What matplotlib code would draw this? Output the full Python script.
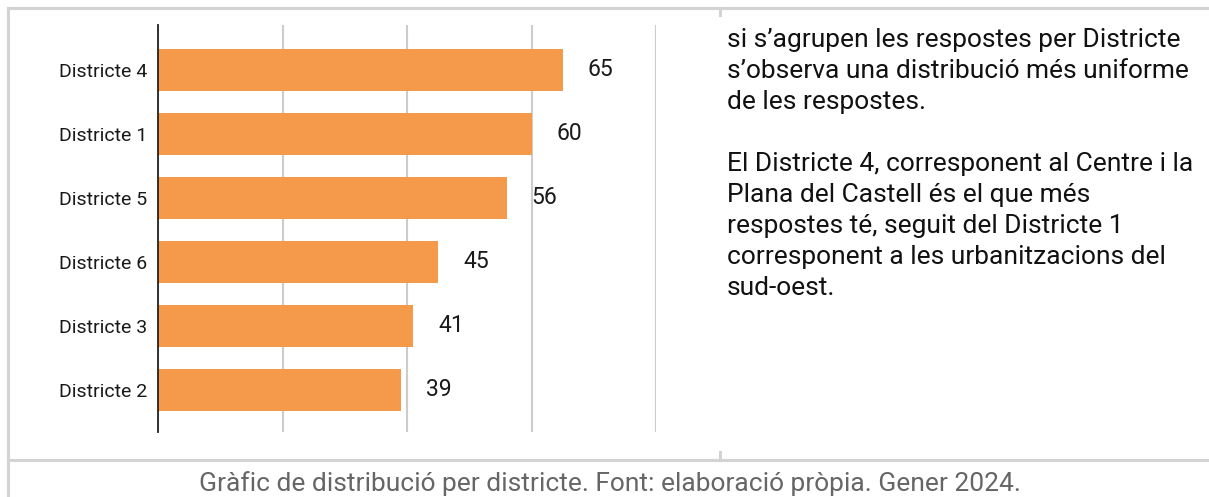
import matplotlib.pyplot as plt
from matplotlib.lines import Line2D

districts = ["Districte 4", "Districte 1", "Districte 5", "Districte 6", "Districte 3", "Districte 2"]
responses = [65, 60, 56, 45, 41, 39]
x_ticks = [0, 20, 40, 60, 80]

paragraph_lines = [
    "si s\u2019agrupen les respostes per Districte",
    "s\u2019observa una distribució més uniforme",
    "de les respostes.",
    "",
    "El Districte 4, corresponent al Centre i la",
    "Plana del Castell és el que més",
    "respostes té, seguit del Districte 1",
    "corresponent a les urbanitzacions del",
    "sud-oest.",
]
caption = "Gràfic de distribució per districte. Font: elaboració pròpia. Gener 2024."

plt.rcParams["font.family"] = ["Roboto", "DejaVu Sans"]

W, H = 1209, 497
fig = plt.figure(figsize=(W / 100, H / 100), dpi=100)
fig.patch.set_facecolor("white")


def fx(px):
    return px / W


def fy(py):
    return 1 - py / H


# table borders of the document layout
border = "#d3d3d3"
for xs, ys in [
    ([8, W], [8, 8]),
    ([8, 8], [8, H]),
    ([8, W], [460, 460]),
    ([720, 720], [8, 15]),
    ([720, 720], [452, 460]),
]:
    fig.add_artist(Line2D([fx(x) for x in xs], [fy(y) for y in ys], color=border, lw=2.2))

ax = fig.add_axes([fx(158), fy(432), fx(656) - fx(158), fy(25) - fy(432)])
pos = list(range(len(districts)))
bars = ax.barh(pos, responses, height=0.65, color="#F5994A", zorder=2)
ax.set_ylim(5.66, -0.70)
ax.set_xlim(0, 80)
ax.set_xticks(x_ticks)
ax.set_xticklabels([])
ax.tick_params(axis="x", length=0)
ax.set_yticks(pos)
ax.set_yticklabels(districts, fontsize=14, color="#1a1a1a")
ax.tick_params(axis="y", length=0, pad=8)
ax.grid(axis="x", color="#cccccc", lw=1.5, zorder=0)
for s in ["top", "right", "bottom"]:
    ax.spines[s].set_visible(False)
ax.spines["left"].set_color("#222222")
ax.spines["left"].set_linewidth(1.3)
ax.spines["left"].set_zorder(3)

for b, v in zip(bars, responses):
    ax.annotate(str(v), (b.get_width(), b.get_y() + b.get_height() / 2),
                xytext=(18, 0), textcoords="offset points", va="center", ha="left",
                fontsize=16.5, color="#1a1a1a")

for i, line in enumerate(paragraph_lines):
    if line:
        fig.text(fx(727), fy(47 + 31 * i), line, fontsize=19, color="#111111",
                 ha="left", va="baseline")

fig.text(fx(610), fy(491), caption, fontsize=19, color="#666666", ha="center", va="baseline")

fig.savefig("out.png", dpi=100)
